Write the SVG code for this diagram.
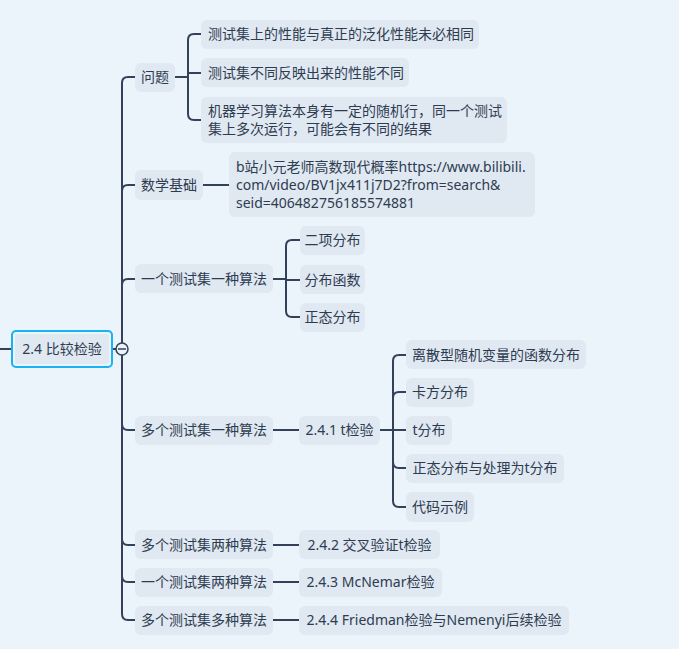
<svg xmlns="http://www.w3.org/2000/svg" width="679" height="649" viewBox="0 0 679 649">
<style>
.n{fill:#e0e8f2}
.t{font-family:"Noto Sans","Noto Sans CJK SC",sans-serif;font-size:14px;fill:#2e3c50}
.c{fill:none;stroke:#33425a;stroke-width:2;stroke-linecap:round;stroke-linejoin:round}
</style>
<rect width="679" height="649" fill="#ebf3fb"/>
<g id="connectors" class="c">
<path d="M0,349H12M112,349H116"/>
<path d="M122,343V83Q122,77 128,77H135"/>
<path d="M122,343V191Q122,185 128,185H135"/>
<path d="M122,343V285Q122,279 128,279H135"/>
<path d="M122,355V424Q122,430 128,430H135"/>
<path d="M122,355V539Q122,545 128,545H135"/>
<path d="M122,355V576Q122,582 128,582H135"/>
<path d="M122,355V614Q122,620 128,620H135"/>
<path d="M175,77H188V40Q188,34 194,34H201"/>
<path d="M188,77V73H201"/>
<path d="M188,77V114Q188,120 194,120H201"/>
<path d="M203,185H229"/>
<path d="M273,279H286V246Q286,240 292,240H300"/>
<path d="M286,279V280H300"/>
<path d="M286,279V311Q286,317 292,317H300"/>
<path d="M273,430H299"/>
<path d="M380,430H393V361Q393,355 399,355H406"/>
<path d="M393,430V398Q393,392 399,392H406"/>
<path d="M393,430H406"/>
<path d="M393,430V462Q393,468 399,468H406"/>
<path d="M393,430V501Q393,507 399,507H406"/>
<path d="M273,545H299"/>
<path d="M273,582H299"/>
<path d="M273,620H299"/>
</g>
<g id="root">
<rect x="12" y="331" width="100" height="36" rx="4" fill="#ebf3fb" stroke="#19b2f2" stroke-width="2"/>
<rect x="15" y="334" width="94" height="30" rx="3" class="n"/>
<text x="62" y="354" text-anchor="middle" class="t">2.4 比较检验</text>
</g>
<g id="collapse">
<circle cx="122" cy="349" r="6" fill="#ebf3fb" stroke="#33425a" stroke-width="1.5"/>
<path d="M118,349H126" stroke="#33425a" stroke-width="1.5"/>
</g>
<g id="n-wenti"><rect x="135" y="63" width="40" height="29" rx="6" class="n"/><text x="155" y="82" text-anchor="middle" class="t">问题</text></g>
<g id="n-w1"><rect x="201" y="20" width="278" height="29" rx="6" class="n"/><text x="208" y="39" class="t">测试集上的性能与真正的泛化性能未必相同</text></g>
<g id="n-w2"><rect x="201" y="58" width="208" height="29" rx="6" class="n"/><text x="208" y="78" class="t">测试集不同反映出来的性能不同</text></g>
<g id="n-w3"><rect x="201" y="97" width="306" height="46" rx="6" class="n"/><text x="208" y="116" class="t">机器学习算法本身有一定的随机行，同一个测试</text><text x="208" y="134" class="t">集上多次运行，可能会有不同的结果</text></g>
<g id="n-math"><rect x="135" y="170" width="68" height="30" rx="6" class="n"/><text x="169" y="190" text-anchor="middle" class="t">数学基础</text></g>
<g id="n-math1"><rect x="229" y="152" width="306" height="65" rx="6" class="n"/><text x="236" y="172" class="t">b站小元老师高数现代概率https://www.bilibili.</text><text x="236" y="190" class="t">com/video/BV1jx411j7D2?from=search&amp;</text><text x="236" y="208" class="t">seid=406482756185574881</text></g>
<g id="n-a"><rect x="135" y="264" width="138" height="29" rx="6" class="n"/><text x="204" y="284" text-anchor="middle" class="t">一个测试集一种算法</text></g>
<g id="n-a1"><rect x="300" y="226" width="65" height="29" rx="6" class="n"/><text x="332.5" y="245" text-anchor="middle" class="t">二项分布</text></g>
<g id="n-a2"><rect x="300" y="265" width="65" height="29" rx="6" class="n"/><text x="332.5" y="285" text-anchor="middle" class="t">分布函数</text></g>
<g id="n-a3"><rect x="300" y="303" width="65" height="29" rx="6" class="n"/><text x="332.5" y="322" text-anchor="middle" class="t">正态分布</text></g>
<g id="n-b"><rect x="135" y="416" width="138" height="29" rx="6" class="n"/><text x="204" y="435" text-anchor="middle" class="t">多个测试集一种算法</text></g>
<g id="n-b1"><rect x="299" y="416" width="81" height="29" rx="6" class="n"/><text x="339.5" y="435" text-anchor="middle" class="t">2.4.1 t检验</text></g>
<g id="n-b11"><rect x="406" y="340" width="180" height="29" rx="6" class="n"/><text x="496" y="360" text-anchor="middle" class="t">离散型随机变量的函数分布</text></g>
<g id="n-b12"><rect x="406" y="378" width="68" height="29" rx="6" class="n"/><text x="440" y="397" text-anchor="middle" class="t">卡方分布</text></g>
<g id="n-b13"><rect x="406" y="416" width="46" height="29" rx="6" class="n"/><text x="429" y="435" text-anchor="middle" class="t">t分布</text></g>
<g id="n-b14"><rect x="406" y="454" width="158" height="29" rx="6" class="n"/><text x="485" y="473" text-anchor="middle" class="t">正态分布与处理为t分布</text></g>
<g id="n-b15"><rect x="406" y="492" width="68" height="30" rx="6" class="n"/><text x="440" y="512" text-anchor="middle" class="t">代码示例</text></g>
<g id="n-c"><rect x="135" y="530" width="138" height="29" rx="6" class="n"/><text x="204" y="550" text-anchor="middle" class="t">多个测试集两种算法</text></g>
<g id="n-c1"><rect x="299" y="530" width="141" height="29" rx="6" class="n"/><text x="369.5" y="550" text-anchor="middle" class="t">2.4.2 交叉验证t检验</text></g>
<g id="n-d"><rect x="135" y="568" width="138" height="29" rx="6" class="n"/><text x="204" y="587" text-anchor="middle" class="t">一个测试集两种算法</text></g>
<g id="n-d1"><rect x="299" y="568" width="143" height="29" rx="6" class="n"/><text x="370.5" y="587" text-anchor="middle" class="t">2.4.3 McNemar检验</text></g>
<g id="n-e"><rect x="135" y="606" width="138" height="29" rx="6" class="n"/><text x="204" y="625" text-anchor="middle" class="t">多个测试集多种算法</text></g>
<g id="n-e1"><rect x="299" y="606" width="270" height="29" rx="6" class="n"/><text x="434" y="625" text-anchor="middle" class="t">2.4.4 Friedman检验与Nemenyi后续检验</text></g>
</svg>
